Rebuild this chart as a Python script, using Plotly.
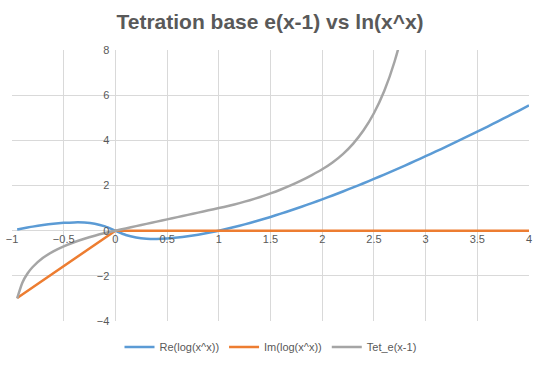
import plotly.graph_objects as go

x_vals = [-0.95, -0.9, -0.85, -0.8, -0.7, -0.6, -0.5, -0.4, -0.3, -0.2, -0.1, 0.0,
          0.1, 0.2, 0.3, 0.4, 0.5, 0.6, 0.7, 0.8, 0.9, 1.0,
          1.1, 1.2, 1.3, 1.4, 1.5, 1.6, 1.7, 1.8, 1.9, 2.0,
          2.1, 2.2, 2.3, 2.4, 2.5, 2.6, 2.7, 2.8, 2.9, 3.0,
          3.1, 3.2, 3.3, 3.4, 3.5, 3.6, 3.7, 3.8, 3.9, 4.0]

re_vals = [0.049, 0.095, 0.138, 0.179, 0.250, 0.307, 0.347, 0.367, 0.361, 0.31, 0.19, 0.0,
           -0.19, -0.30, -0.355, -0.367, -0.347, -0.307, -0.250, -0.179, -0.095, 0.0,
           0.105, 0.219, 0.341, 0.471, 0.608, 0.752, 0.902, 1.058, 1.220, 1.386,
           1.558, 1.735, 1.916, 2.101, 2.291, 2.484, 2.682, 2.883, 3.088, 3.296,
           3.507, 3.722, 3.940, 4.161, 4.385, 4.611, 4.841, 5.073, 5.308, 5.545]

im_vals = [-2.985, -2.827, -2.670, -2.513, -2.199, -1.885, -1.571, -1.257, -0.942, -0.628, -0.314, 0.0,
           0, 0, 0, 0, 0, 0, 0, 0, 0, 0,
           0, 0, 0, 0, 0, 0, 0, 0, 0, 0,
           0, 0, 0, 0, 0, 0, 0, 0, 0, 0,
           0, 0, 0, 0, 0, 0, 0, 0, 0, 0]

tet_vals = [-2.996, -2.303, -1.897, -1.609, -1.204, -0.916, -0.693, -0.511, -0.357, -0.223, -0.105, 0.0,
            0.1, 0.2, 0.3, 0.4, 0.5, 0.6, 0.7, 0.8, 0.9, 1.0,
            1.105, 1.221, 1.350, 1.492, 1.649, 1.822, 2.014, 2.226, 2.460, 2.718,
            3.020, 3.392, 3.857, 4.445, 5.200, 6.185, 7.491, 9.259, 11.70, 15.15,
            None, None, None, None, None, None, None, None, None, None]

names = ["Re(log(x^x))", "Im(log(x^x))", "Tet_e(x-1)"]
colors = ["#5B9BD5", "#ED7D31", "#A5A5A5"]
shapes = ["spline", "linear", "spline"]

fig = go.Figure()
for name, ys, c, sh in zip(names, [re_vals, im_vals, tet_vals], colors, shapes):
    line = dict(color=c, width=2.5, shape=sh)
    if sh == "spline":
        line["smoothing"] = 0.6
    fig.add_trace(go.Scatter(x=x_vals, y=ys, mode="lines", name=name,
                             line=line, connectgaps=False))

font_family = "Liberation Sans, Arial, sans-serif"
fig.update_layout(
    width=540, height=365,
    margin=dict(l=12, r=11, t=50, b=44, autoexpand=False),
    paper_bgcolor="white", plot_bgcolor="white",
    title=dict(text="<b>Tetration base e(x-1) vs ln(x^x)</b>", x=0.5, xanchor="center",
               y=0.94, yanchor="middle",
               font=dict(family=font_family, size=21, color="#595959")),
    font=dict(family=font_family, size=11, color="#595959"),
    showlegend=True,
    legend=dict(orientation="h", x=0.5, xanchor="center", y=-0.096, yanchor="middle",
                font=dict(size=11, color="#595959"), itemwidth=30),
    xaxis=dict(range=[-1, 4], dtick=0.5, tick0=-1, showgrid=True, gridcolor="#D9D9D9",
               gridwidth=1, zeroline=False, showline=False, ticks="",
               anchor="free", position=1/3, domain=[0, 1], automargin=False,
               ticklabeloverflow="allow",
               tickfont=dict(size=11, color="#595959")),
    yaxis=dict(range=[-4, 8], dtick=2, showgrid=True, gridcolor="#D9D9D9",
               gridwidth=1, zeroline=False, showline=False, ticks="",
               anchor="free", position=0.2, domain=[0, 1], ticklabelstandoff=6,
               automargin=False, ticklabeloverflow="allow",
               tickfont=dict(size=11, color="#595959")),
)

fig.write_html("out.html", config={"displayModeBar": False},
               post_script="document.body.style.margin='0';")
